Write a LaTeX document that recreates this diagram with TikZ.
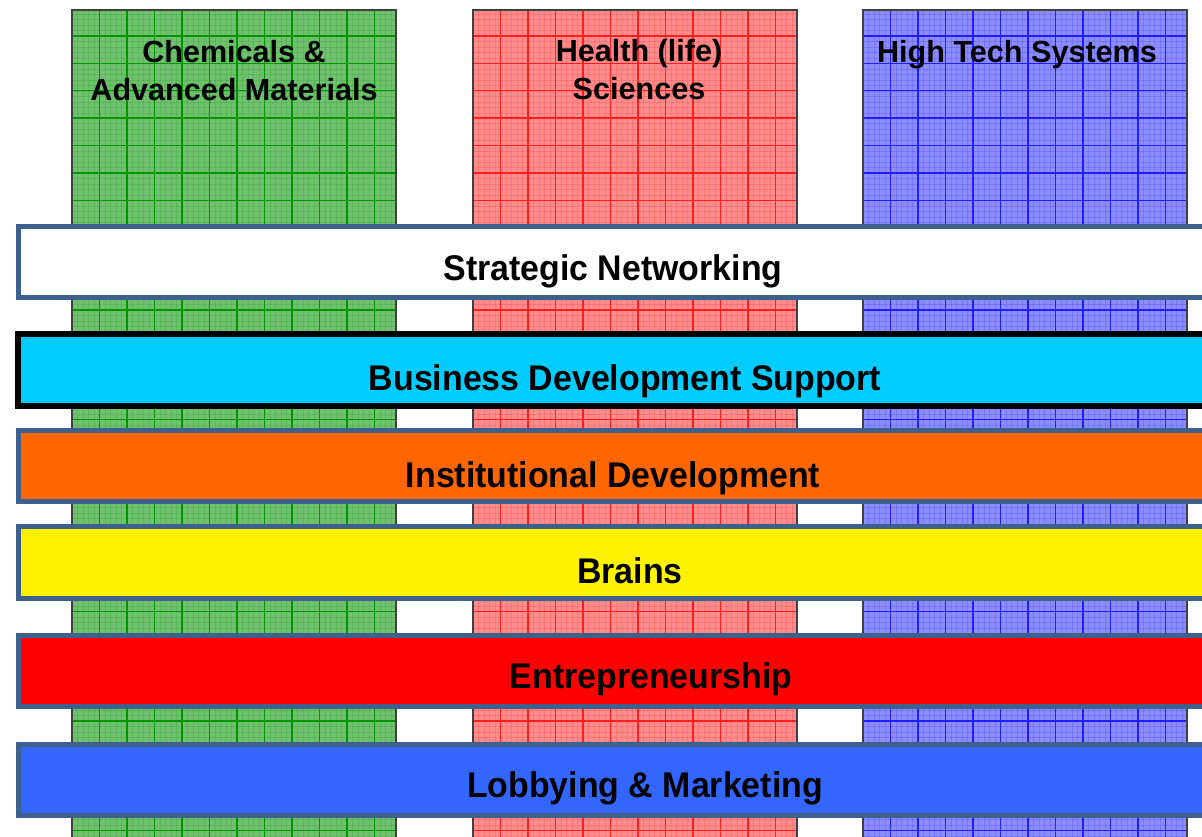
\documentclass[tikz,border=0pt]{standalone}
\usepackage{fontspec}
\setmainfont{Liberation Sans}
\newfontfamily\barfont[FakeStretch=0.95]{Liberation Sans}

\definecolor{chemfill}{RGB}{112,192,112}
\definecolor{chemline}{RGB}{0,150,0}
\definecolor{healthfill}{RGB}{255,140,140}
\definecolor{healthline}{RGB}{255,30,30}
\definecolor{techfill}{RGB}{140,140,255}
\definecolor{techline}{RGB}{30,30,255}
\definecolor{barborder}{RGB}{61,96,140}
\definecolor{bdscyan}{RGB}{0,204,255}
\definecolor{instorange}{RGB}{255,102,0}
\definecolor{lobblue}{RGB}{51,102,255}

\tikzset{
  bar/.style={draw=barborder, line width=2.8pt, minimum width=23.94cm,
    minimum height=1.43cm, inner sep=0pt},
  barlabel/.style={anchor=base, inner sep=0pt,
    font=\barfont\bfseries\fontsize{20.3}{24}\selectfont},
  coltitle/.style={anchor=north, align=center, inner sep=0pt,
    font=\bfseries\fontsize{17.4}{21.6}\selectfont},
}

% one gridded column: left edge, fill, line colour
\newcommand{\gridcolumn}[3]{%
  \fill[#2] (#1,10) rectangle ({#1+324},845);
  \begin{scope}
    \clip (#1,10) rectangle ({#1+324},845);
    % fine grid
    \foreach \i in {0,...,60}
      \draw[#3, line width=.2pt, opacity=.18] ({#1+5.5*\i},10) -- ({#1+5.5*\i},845);
    \foreach \j in {0,...,152}
      \draw[#3, line width=.2pt, opacity=.18] (#1,{8.6+5.48*\j}) -- ({#1+324},{8.6+5.48*\j});
    % main grid
    \foreach \i in {1,...,11}
      \draw[#3, line width=.8pt] ({#1+27.5*\i},10) -- ({#1+27.5*\i},845);
    \foreach \j in {0,...,29}
      \draw[#3, line width=.8pt] (#1,{36+27.4*\j}) -- ({#1+324},{36+27.4*\j});
  \end{scope}
  \draw[black!75, line width=.8pt] (#1,845) -- (#1,10) -- ({#1+324},10) -- ({#1+324},845);
}

\begin{document}
\begin{tikzpicture}[x=0.02cm, y=-0.02cm]
    \useasboundingbox (0,0) rectangle (1202,837);
    \fill[white] (0,0) rectangle (1202,837);
    \clip (0,0) rectangle (1202,837);

    % Columns
    \gridcolumn{72}{chemfill}{chemline}
    \gridcolumn{473}{healthfill}{healthline}
    \gridcolumn{863}{techfill}{techline}

    % Column titles
    \node[coltitle] (chem) at (234,40) {Chemicals \&\\Advanced Materials};
    \node[coltitle] (health) at (639,39) {Health (life)\\Sciences};
    \node[coltitle] (tech) at (1017,40) {High Tech Systems};

    % Bars
    \node[bar, fill=white] (sn) at (616.5,262) {};
    \node[bar, fill=bdscyan, draw=black, line width=3.4pt] (bds) at (616.5,370) {};
    \node[bar, fill=instorange] (inst) at (616.5,466) {};
    \node[bar, fill=yellow] (brains) at (616.5,562.5) {};
    \node[bar, fill=red] (entr) at (616.5,671) {};
    \node[bar, fill=lobblue] (lob) at (616.5,780) {};

    % Bar labels
    \node[barlabel] (snlabel) at (613,281) {Strategic Networking};
    \node[barlabel] (bdslabel) at (625,390) {Business Development Support};
    \node[barlabel] (instlabel) at (613,487) {Institutional Development};
    \node[barlabel] (brainslabel) at (630,583) {Brains};
    \node[barlabel] (entrlabel) at (651,688) {Entrepreneurship};
    \node[barlabel] (loblabel) at (645,797) {Lobbying \& Marketing};
\end{tikzpicture}
\end{document}
